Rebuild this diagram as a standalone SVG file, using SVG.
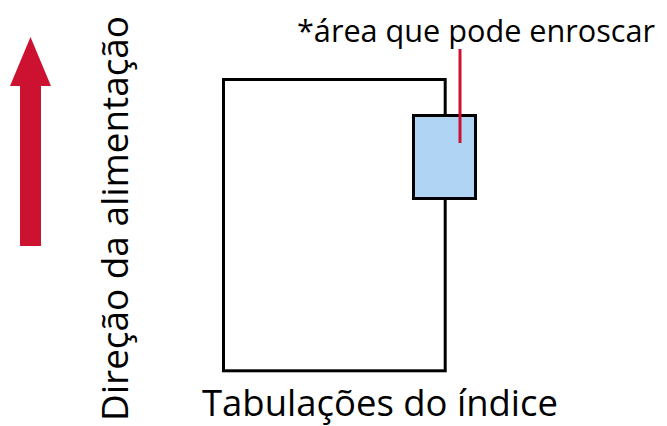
<svg xmlns="http://www.w3.org/2000/svg" width="667" height="426" viewBox="0 0 667 426">
<style>
.lbl{font-family:"Open Sans","Noto Sans","Liberation Sans",sans-serif;fill:#000}
.box{fill:#fff;stroke:#000;stroke-width:3}
.zone{fill:#B0D4F3;stroke:#000;stroke-width:3}
.lead{stroke:#CC1230;stroke-width:3;fill:none}
</style>
<rect width="667" height="426" fill="#fff"/>
<g id="feed-arrow">
<polygon points="30.5,37 51,86 41,86 41,246 20,246 20,86 10,86" fill="#CC1230"/>
<text class="lbl" font-size="37" transform="translate(128,421) rotate(-90)" textLength="405" lengthAdjust="spacingAndGlyphs">Direção da alimentação</text>
</g>
<g id="document">
<rect class="box" x="223.5" y="79.5" width="221.7" height="291.3"/>
<text class="lbl" font-size="36" x="202" y="415.5" textLength="356" lengthAdjust="spacingAndGlyphs">Tabulações do índice</text>
</g>
<g id="jam-area">
<rect class="zone" x="413.5" y="115.5" width="62" height="83"/>
<text class="lbl" font-size="31" x="297" y="42" textLength="358" lengthAdjust="spacingAndGlyphs">*área que pode enroscar</text>
</g>
<g id="connectors">
<line class="lead" x1="460" y1="49" x2="460" y2="143"/>
</g>
</svg>
